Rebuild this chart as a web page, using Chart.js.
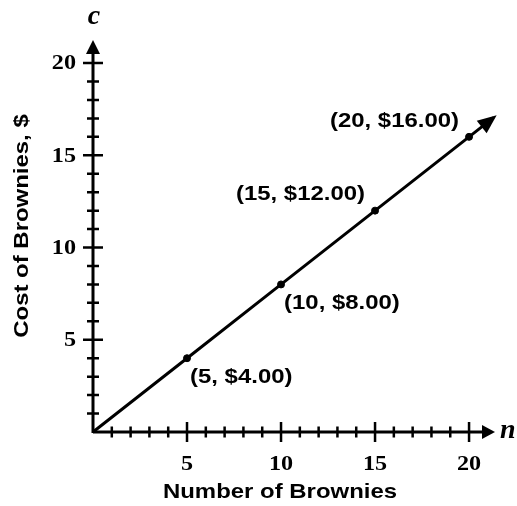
<!DOCTYPE html>
<html>
<head>
<meta charset="utf-8">
<script src="https://cdn.jsdelivr.net/npm/chart.js@4/dist/chart.umd.min.js"></script>
<style>
  body { margin: 0; background: #fff; }
</style>
</head>
<body>
<canvas id="brownieChart" width="517" height="506"></canvas>
<script>
// data
const brownies = [5, 10, 15, 20];
const cost = [4, 8, 12, 16];
const pointLabels = ['(5, $4.00)', '(10, $8.00)', '(15, $12.00)', '(20, $16.00)'];
const xTickLabels = [5, 10, 15, 20];
const yTickLabels = [5, 10, 15, 20];
const lineStart = { x: 0, y: 0 };
const lineEnd = { x: 21.3, y: 17.04 };

// label placement (style only)
const labelSide = ['below', 'below', 'above', 'above'];

const ink = '#000';
const sansBold = 'bold 21px "Liberation Sans", Arial, sans-serif';
const serifBold = 'bold 21px "Liberation Serif", serif';

// text drawn a bit wider horizontally, like the original lettering
function wideText(ctx, text, x, y, align, wide, rot) {
    ctx.save();
    ctx.translate(x, y);
    if (rot) ctx.rotate(rot);
    ctx.scale(wide, 1);
    ctx.textAlign = align;
    ctx.fillText(text, 0, 0);
    ctx.restore();
}

// draws axes, ticks, text and arrowheads through the chart scales
const graphPaper = {
    id: 'graphPaper',
    beforeDatasetsDraw(chart) {
        const { ctx, scales: { x, y } } = chart;
        const x0 = x.getPixelForValue(0);
        const y0 = y.getPixelForValue(0);
        const xEnd = x.getPixelForValue(x.max);
        const yEnd = y.getPixelForValue(y.max);

        ctx.save();
        ctx.strokeStyle = ink;
        ctx.fillStyle = ink;

        // axis lines
        ctx.lineWidth = 3;
        ctx.beginPath();
        ctx.moveTo(x0, y0);
        ctx.lineTo(xEnd - 10, y0);
        ctx.moveTo(x0, y0 + 1);
        ctx.lineTo(x0, yEnd + 10);
        ctx.stroke();

        // axis arrows
        ctx.beginPath();
        ctx.moveTo(xEnd, y0);
        ctx.lineTo(xEnd - 13, y0 - 7);
        ctx.lineTo(xEnd - 13, y0 + 7);
        ctx.closePath();
        ctx.fill();
        ctx.beginPath();
        ctx.moveTo(x0, yEnd);
        ctx.lineTo(x0 - 7, yEnd + 14);
        ctx.lineTo(x0 + 7, yEnd + 14);
        ctx.closePath();
        ctx.fill();

        // ticks every unit, longer every 5
        ctx.lineWidth = 2.5;
        ctx.beginPath();
        for (let i = 1; i <= 20; i++) {
            const px = x.getPixelForValue(i);
            const len = i % 5 === 0 ? 10 : 5.5;
            ctx.moveTo(px, y0 - len);
            ctx.lineTo(px, y0 + len);
            const py = y.getPixelForValue(i);
            const lenY = i % 5 === 0 ? 10 : 6;
            ctx.moveTo(x0 - lenY, py);
            ctx.lineTo(x0 + lenY, py);
        }
        ctx.stroke();

        // tick labels
        ctx.font = serifBold;
        ctx.textBaseline = 'middle';
        xTickLabels.forEach(v => wideText(ctx, String(v), x.getPixelForValue(v), y0 + 33, 'center', 1.15));
        yTickLabels.forEach(v => wideText(ctx, String(v), x0 - 17, y.getPixelForValue(v) + 1, 'right', 1.15));

        // variable names
        ctx.font = 'italic bold 28px "Liberation Serif", serif';
        ctx.textAlign = 'center';
        ctx.fillText('c', x0 + 1, 17);
        ctx.textAlign = 'left';
        ctx.fillText('n', xEnd + 5, y0 - 1);

        // axis titles
        ctx.font = sansBold;
        wideText(ctx, 'Number of Brownies', 280, 492, 'center', 1.14);
        wideText(ctx, 'Cost of Brownies, $', 22, 226, 'center', 1.14, -Math.PI / 2);
        ctx.restore();
    },
    afterDatasetsDraw(chart) {
        const { ctx, scales: { x, y } } = chart;
        ctx.save();
        ctx.fillStyle = ink;

        // arrowhead at the end of the line
        const tx = x.getPixelForValue(lineEnd.x);
        const ty = y.getPixelForValue(lineEnd.y);
        const sx = x.getPixelForValue(lineStart.x);
        const sy = y.getPixelForValue(lineStart.y);
        const ang = Math.atan2(ty - sy, tx - sx);
        ctx.translate(tx, ty);
        ctx.rotate(ang);
        ctx.beginPath();
        ctx.moveTo(4, 0);
        ctx.lineTo(-15, -8);
        ctx.lineTo(-15, 8);
        ctx.closePath();
        ctx.fill();
        ctx.setTransform(1, 0, 0, 1, 0, 0);

        // point labels
        ctx.font = sansBold;
        ctx.textBaseline = 'middle';
        brownies.forEach((n, i) => {
            const px = x.getPixelForValue(n);
            const py = y.getPixelForValue(cost[i]);
            if (labelSide[i] === 'below') {
                wideText(ctx, pointLabels[i], px + 3, py + 19, 'left', 1.14);
            } else {
                wideText(ctx, pointLabels[i], px - 10, py - 16, 'right', 1.14);
            }
        });
        ctx.restore();
    }
};

new Chart(document.getElementById('brownieChart'), {
    type: 'scatter',
    data: {
        datasets: [
            {
                // straight line through the origin
                data: [lineStart, ...brownies.map((n, i) => ({ x: n, y: cost[i] })), lineEnd],
                showLine: true,
                borderColor: ink,
                borderWidth: 3,
                pointRadius: 0,
                clip: false
            },
            {
                data: brownies.map((n, i) => ({ x: n, y: cost[i] })),
                backgroundColor: ink,
                borderColor: ink,
                pointRadius: 3.5,
                clip: false
            }
        ]
    },
    options: {
        responsive: false,
        animation: false,
        devicePixelRatio: 1,
        layout: { padding: { left: 93, right: 22, top: 40, bottom: 74 } },
        plugins: { legend: { display: false }, tooltip: { enabled: false } },
        scales: {
            x: { type: 'linear', min: 0, max: 21.38, display: false },
            y: { type: 'linear', min: 0, max: 21.25, display: false }
        }
    },
    plugins: [graphPaper]
});
</script>
</body>
</html>
